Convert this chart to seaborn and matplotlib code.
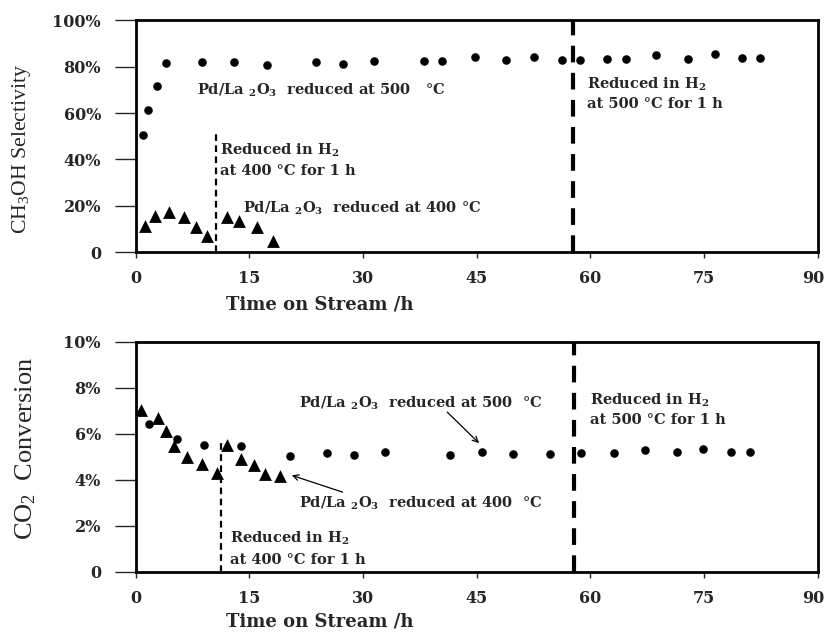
import matplotlib
matplotlib.use("Agg")
import matplotlib.pyplot as plt
from matplotlib.ticker import FuncFormatter
from matplotlib.transforms import offset_copy
import seaborn as sns

# top panel: CH3OH selectivity (%)
sel500_t = [1.0, 1.6, 2.8, 4.0, 8.7, 13.0, 17.3, 23.8, 27.4, 31.5, 38.0, 40.4, 44.8,
            48.9, 52.6, 56.2, 58.6, 62.2, 64.7, 68.7, 72.9, 76.4, 80.0, 82.4]
sel500_v = [50.7, 61.2, 71.8, 81.6, 81.8, 81.8, 80.6, 82.2, 81.0, 82.3, 82.3, 82.4, 84.0,
            82.9, 84.2, 83.0, 83.0, 83.2, 83.4, 85.0, 83.4, 85.3, 83.9, 83.9]
sel400_t = [1.3, 2.5, 4.4, 6.4, 8.0, 9.4, 12.0, 13.7, 16.0, 18.1]
sel400_v = [11.2, 15.5, 17.4, 15.0, 10.9, 7.0, 15.2, 13.4, 10.9, 4.7]

# bottom panel: CO2 conversion (%)
conv500_t = [1.75, 5.4, 9.0, 13.9, 20.4, 25.3, 28.8, 32.9, 41.5, 45.7, 49.8,
             54.6, 58.8, 63.1, 67.2, 71.4, 74.9, 78.5, 81.0]
conv500_v = [6.45, 5.8, 5.54, 5.47, 5.05, 5.17, 5.07, 5.2, 5.1, 5.23, 5.12,
             5.14, 5.17, 5.17, 5.3, 5.2, 5.33, 5.22, 5.2]
conv400_t = [0.7, 3.0, 4.0, 5.1, 6.8, 8.8, 10.7, 12.1, 13.9, 15.6, 17.1, 19.0]
conv400_v = [7.03, 6.7, 6.12, 5.47, 5.0, 4.68, 4.32, 5.54, 4.93, 4.64, 4.25, 4.18]

x_ticks = [0, 15, 30, 45, 60, 75, 90]

sns.set_style("ticks")
plt.rcParams["font.family"] = ["DejaVu Serif"]
plt.rcParams["mathtext.default"] = "regular"

fig = plt.figure(figsize=(8.27, 6.32), dpi=100)
ax1 = fig.add_axes([0.164, 0.601, 0.825, 0.367])
ax2 = fig.add_axes([0.164, 0.095, 0.825, 0.364])

ann = dict(fontsize=10.5, fontweight="bold", va="center")
pct = FuncFormatter(lambda v, p: "0" if v == 0 else f"{v:.0f}%")

panels = [
    (ax1, sel500_t, sel500_v, sel400_t, sel400_v),
    (ax2, conv500_t, conv500_v, conv400_t, conv400_v),
]
for ax, t5, v5, t4, v4 in panels:
    sns.scatterplot(x=t5, y=v5, marker="o", color="black", s=38, linewidth=0, ax=ax)
    sns.scatterplot(x=t4, y=v4, marker="^", color="black", s=85, linewidth=0, ax=ax)
    ax.set_xlim(0, 90)
    ax.set_xticks(x_ticks)
    for s in ax.spines.values():
        s.set_linewidth(2)
        s.set_color("black")
    ax.tick_params(axis="y", direction="out", length=15, width=1, labelsize=11.5, pad=10)
    ax.tick_params(axis="x", direction="out", length=4, width=1, labelsize=11.5, pad=9)
    ax.yaxis.set_major_formatter(pct)
    xlabs = ax.get_xticklabels()
    for lab in xlabs + ax.get_yticklabels():
        lab.set_fontweight("bold")
    # last "90" sits a little left of its tick so it stays inside the figure
    xlabs[-1].set_transform(offset_copy(xlabs[-1].get_transform(), fig=fig, x=-5, units="dots"))
    ax.set_xlabel("Time on Stream /h", fontsize=13, fontweight="bold")

# top panel
ax1.set_ylim(0, 100)
ax1.set_yticks([0, 20, 40, 60, 80, 100])
ax1.set_ylabel("CH$_3$OH Selectivity", fontsize=15.7, family=["Liberation Serif"])
ax1.yaxis.set_label_coords(-0.15, 0.444)
ax1.xaxis.set_label_coords(0.27, -0.185)
ax1.plot([10.55, 10.55], [0, 51], ls=(0, (3, 2)), color="black", lw=1.6)
ax1.axvline(57.7, ls=(0, (4, 2.5)), color="black", lw=3)
ax1.text(8.1, 70, "Pd/La $_2$O$_3$  reduced at 500   °C", **ann)
ax1.text(11.1, 44, "Reduced in H$_2$", **ann)
ax1.text(11.1, 35, "at 400 °C for 1 h", **ann)
ax1.text(14.2, 19, "Pd/La $_2$O$_3$  reduced at 400 °C", **ann)
ax1.text(59.5, 72.4, "Reduced in H$_2$", **ann)
ax1.text(59.5, 64, "at 500 °C for 1 h", **ann)

# bottom panel
ax2.set_ylim(0, 10)
ax2.set_yticks([0, 2, 4, 6, 8, 10])
ax2.set_ylabel("CO$_2$  Conversion", fontsize=19, family=["Liberation Serif"])
ax2.yaxis.set_label_coords(-0.143, 0.538)
ax2.xaxis.set_label_coords(0.27, -0.175)
ax2.plot([11.3, 11.3], [0, 5.6], ls=(0, (3, 2)), color="black", lw=1.6)
ax2.axvline(57.8, ls=(0, (4, 2.5)), color="black", lw=3)
ax2.text(21.6, 7.33, "Pd/La $_2$O$_3$  reduced at 500  °C", **ann)
ax2.annotate("", xy=(45.3, 5.6), xytext=(41.1, 6.95),
             arrowprops=dict(arrowstyle="->", color="black", lw=0.9, shrinkA=0, shrinkB=0))
ax2.text(21.6, 2.98, "Pd/La $_2$O$_3$  reduced at 400  °C", **ann)
ax2.annotate("", xy=(20.6, 4.2), xytext=(27.3, 3.47),
             arrowprops=dict(arrowstyle="->", color="black", lw=0.9, shrinkA=0, shrinkB=0))
ax2.text(12.4, 1.46, "Reduced in H$_2$", **ann)
ax2.text(12.4, 0.5, "at 400 °C for 1 h", **ann)
ax2.text(59.9, 7.47, "Reduced in H$_2$", **ann)
ax2.text(59.9, 6.6, "at 500 °C for 1 h", **ann)

fig.savefig("out.png", dpi=100)
